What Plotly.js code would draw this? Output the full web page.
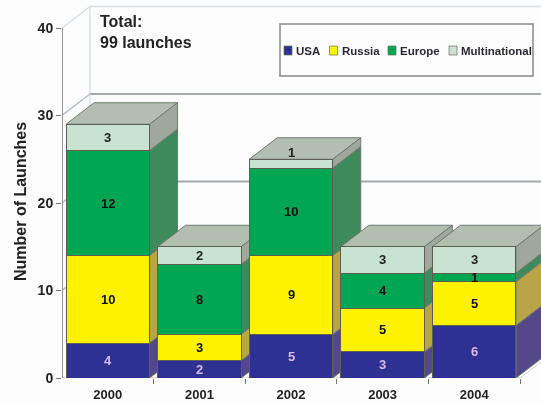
<!DOCTYPE html>
<html><head><meta charset="utf-8">
<script src="https://cdn.plot.ly/plotly-3.0.1.min.js"></script>
<style>html,body{margin:0;padding:0;background:#fdfdfe}#chart{filter:blur(0.45px)}</style></head>
<body><div id="chart" style="width:541px;height:404px"></div>
<script>
const years = ['2000','2001','2002','2003','2004'];
const usa = [4,2,5,3,6];
const russia = [10,3,9,5,5];
const europe = [12,8,10,4,1];
const multinational = [3,2,1,3,3];
const seriesNames = ['USA','Russia','Europe','Multinational'];
const seriesValues = [usa,russia,europe,multinational];
const frontColors = ['#2e3192','#fff200','#00a651','#c8e4d0'];
const sideColors = ['#54488a','#b9a548','#3e8a5d','#a0a89e'];
const labelColors = ['#d9b8ee','#111','#111','#222'];
const topColor = '#b2bfb0';
const gridValues = [10,20,30,40];
const axisValues = [0,10,20,30,40];

const W=541,H=404,L=62,B=26,catPx=91.6,unitPx=8.75;
const xR=[-0.5,-0.5+(W-L)/catPx], yR=[0,(H-B)/unitPx];
const dx=28/catPx, dy=21.5/unitPx, barW=83.5/catPx;
const xs=years.map((_,i)=>i);
const F="'Liberation Sans',Arial,sans-serif";
const traces=[];
function line(x,y,color,width){traces.push({type:'scatter',mode:'lines',x,y,line:{color,width},hoverinfo:'skip',showlegend:false,cliponaxis:false});}
function poly(x,y,fill,edge){traces.push({type:'scatter',mode:'lines',x,y,fill:'toself',fillcolor:fill,line:{color:edge,width:1},hoverinfo:'skip',showlegend:false});}

const x0=xR[0], xb=x0+dx;
// back wall, gridlines, side wall
line([xb,xb],[dy,40+dy],'#d6e0e6',1.5);
line([xb,xR[1]],[40+dy,40+dy],'#d6e0e6',1.5);
line([x0,xb],[40,40+dy],'#d6e0e6',1.5);
gridValues.filter(v=>v<40).forEach(v=>{
  line([xb,xR[1]],[v+dy,v+dy],'#a4abad',1.8);
  line([x0,xb],[v,v+dy],'#b4c0c8',1.5);
});
line([x0,x0],[0,40],'#8d9496',2);
line([x0,4.5],[0,0],'#cfa9a9',1);
line([4.5,4.5+dx],[0,dy],'#cfd6da',1);

// depth faces computed from the data
xs.forEach(i=>{
  const xr=i+barW/2, xl=i-barW/2;
  let total=0; seriesValues.forEach(s=>total+=s[i]);
  poly([xl,xl+dx,xr+dx,xr,xl],[total,total+dy,total+dy,total,total],topColor,'#6f7a72');
  let base=0;
  seriesValues.forEach((s,k)=>{
    const t=base+s[i];
    poly([xr,xr+dx,xr+dx,xr,xr],[base,base+dy,t+dy,t,base],sideColors[k],'#6f7a72');
    base=t;
  });
});
// front faces, real stacked bars on an overlaid subplot
seriesValues.forEach((s,k)=>{
  traces.push({type:'bar',name:seriesNames[k],x:xs,y:s,width:barW,xaxis:'x2',yaxis:'y2',
    marker:{color:frontColors[k],line:{color:'#5d5f52',width:1}},hoverinfo:'skip',showlegend:false});
});

const annotations=[], shapes=[];
xs.forEach(i=>{
  let base=0;
  seriesValues.forEach((s,k)=>{
    let y=base+s[i]/2;
    if(i===2&&k===3) y=base+s[i]+0.75; // this small label sits up on the top face
    annotations.push({xref:'x',yref:'y',x:i,y,text:String(s[i]),showarrow:false,
      font:{family:F,size:13,weight:'bold',color:labelColors[k]},xanchor:'center',yanchor:'middle'});
    base+=s[i];
  });
});
const px=v=>(v-L)/(W-L), py=v=>1-v/(H-B);
annotations.push({xref:'paper',yref:'paper',x:px(97.5),y:py(10.5),xanchor:'left',yanchor:'top',showarrow:false,align:'left',
  text:'Total:<br>99 launches',font:{family:F,size:16,weight:'bold',color:'#222'}});
annotations.push({xref:'paper',yref:'paper',x:px(20),y:py(202),xanchor:'center',yanchor:'middle',showarrow:false,textangle:-90,
  text:'Number of Launches',font:{family:F,size:16,weight:'bold',color:'#222'}});
// legend box
shapes.push({type:'rect',xref:'paper',yref:'paper',x0:px(280),x1:px(533),y0:py(24),y1:py(76),line:{color:'#85898b',width:1.5},fillcolor:'#fdfdfe',layer:'above'});
const swX=[284,329.5,388,449], txX=[294,340,398,458.5];
seriesNames.forEach((n,k)=>{
  shapes.push({type:'rect',xref:'paper',yref:'paper',x0:px(swX[k]),x1:px(swX[k]+8),y0:py(46),y1:py(55),fillcolor:frontColors[k],line:{color:'#6a6f66',width:0.7},layer:'above'});
  annotations.push({xref:'paper',yref:'paper',x:px(txX[k]),y:py(50.5),xanchor:'left',yanchor:'middle',showarrow:false,text:n,
    font:{family:F,size:11.5,weight:'bold',color:'#2a2a35'}});
});

const layout={
  width:W,height:H,margin:{l:L,r:0,t:0,b:B},
  paper_bgcolor:'#fdfdfe',plot_bgcolor:'#fdfdfe',barmode:'stack',showlegend:false,
  font:{family:F},
  xaxis:{range:xR,tickmode:'array',tickvals:xs,ticktext:years,ticks:'',ticklabelstandoff:7,showgrid:false,zeroline:false,showline:false,
    tickfont:{family:F,size:13,weight:'bold',color:'#222'},
    minor:{tickmode:'array',tickvals:[0.5,1.5,2.5,3.5,4.5],ticks:'outside',ticklen:5,tickcolor:'#777',tickwidth:1,showgrid:false}},
  yaxis:{range:yR,tickmode:'array',tickvals:axisValues,ticks:'outside',ticklen:5,tickcolor:'#777',tickwidth:1,showgrid:false,zeroline:false,showline:false,
    tickfont:{family:F,size:14,weight:'bold',color:'#222'}},
  xaxis2:{range:xR,overlaying:'x',visible:false},
  yaxis2:{range:yR,overlaying:'y',visible:false},
  annotations,shapes
};
Plotly.newPlot('chart',traces,layout,{displayModeBar:false,staticPlot:true});
</script></body></html>
